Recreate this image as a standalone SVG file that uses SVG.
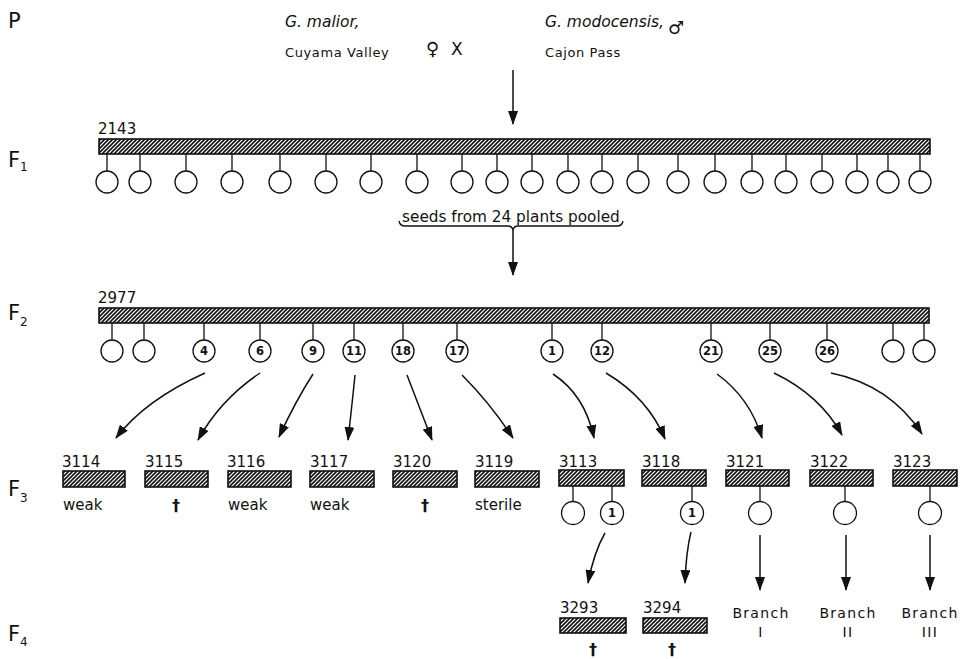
<svg xmlns="http://www.w3.org/2000/svg" width="964" height="659" viewBox="0 0 964 659">
<style>
text{font-family:"DejaVu Sans","Liberation Sans",sans-serif;fill:#111}
.gen{font-size:21px}
.sub{font-size:12px}
.num{font-size:15px}
.lbl{font-size:15px}
.dg{font-size:16px;font-weight:bold;text-anchor:middle}
.cn{font-size:11.5px;font-weight:bold;text-anchor:middle}
.br{font-size:14px;letter-spacing:1.3px;text-anchor:middle}
.sp{font-size:15.5px;font-style:italic}
.loc{font-size:13px;letter-spacing:0.6px}
.bar{fill:url(#hatch);stroke:#111;stroke-width:1.6}
.c{fill:#fff;stroke:#111;stroke-width:1.3}
.st{stroke:#111;stroke-width:1.3;fill:none}
.ar{stroke:#111;stroke-width:1.5;fill:none;marker-end:url(#ah)}
</style>
<defs>
<pattern id="hatch" patternUnits="userSpaceOnUse" width="4" height="4">
<rect width="4" height="4" fill="#fff"/>
<path d="M-1,1 l2,-2 M0,4 l4,-4 M3,5 l2,-2" stroke="#111" stroke-width="1.6"/>
</pattern>
<marker id="ah" viewBox="0 0 14 10" refX="13" refY="5" markerWidth="14" markerHeight="10" markerUnits="userSpaceOnUse" orient="auto">
<path d="M0,0 L14,5 L0,10 z" fill="#111"/>
</marker>
</defs>

<g id="generation-labels">
<text class="gen" x="8" y="28">P</text>
<text class="gen" x="8" y="167">F<tspan class="sub" dy="4">1</tspan></text>
<text class="gen" x="8" y="320">F<tspan class="sub" dy="6">2</tspan></text>
<text class="gen" x="8" y="496">F<tspan class="sub" dy="6">3</tspan></text>
<text class="gen" x="8" y="641">F<tspan class="sub" dy="5">4</tspan></text>
</g>

<g id="parents">
<text class="sp" x="285" y="27">G. malior,</text>
<text class="loc" x="285" y="57">Cuyama Valley</text>
<text x="426" y="55" style="font-size:18px">♀</text>
<text x="451" y="55" style="font-size:17px">X</text>
<text class="sp" x="545" y="27">G. modocensis,</text>
<text x="668" y="34" style="font-size:18px">♂</text>
<text class="loc" x="545" y="57">Cajon Pass</text>
</g>

<g id="F1">
<text class="num" x="98" y="134">2143</text>
<rect class="bar" x="99" y="139" width="831" height="15"/>
<g class="st">
<path d="M107,154V171M140,154V171M186,154V171M232,154V171M280,154V171M326,154V171M371,154V171M417,154V171M462,154V171M497,154V171M532,154V171M568,154V171M602,154V171M638,154V171M678,154V171M715,154V171M752,154V171M786,154V171M822,154V171M857,154V171M888,154V171M920,154V171"/>
</g>
<g>
<circle class="c" cx="107" cy="182" r="11"/><circle class="c" cx="140" cy="182" r="11"/><circle class="c" cx="186" cy="182" r="11"/><circle class="c" cx="232" cy="182" r="11"/><circle class="c" cx="280" cy="182" r="11"/><circle class="c" cx="326" cy="182" r="11"/><circle class="c" cx="371" cy="182" r="11"/><circle class="c" cx="417" cy="182" r="11"/><circle class="c" cx="462" cy="182" r="11"/><circle class="c" cx="497" cy="182" r="11"/><circle class="c" cx="532" cy="182" r="11"/><circle class="c" cx="568" cy="182" r="11"/><circle class="c" cx="602" cy="182" r="11"/><circle class="c" cx="638" cy="182" r="11"/><circle class="c" cx="678" cy="182" r="11"/><circle class="c" cx="715" cy="182" r="11"/><circle class="c" cx="752" cy="182" r="11"/><circle class="c" cx="786" cy="182" r="11"/><circle class="c" cx="822" cy="182" r="11"/><circle class="c" cx="857" cy="182" r="11"/><circle class="c" cx="888" cy="182" r="11"/><circle class="c" cx="920" cy="182" r="11"/>
</g>
</g>

<g id="pool">
<text class="lbl" x="402" y="222" style="font-size:15.3px">seeds from 24 plants pooled</text>
<path class="st" d="M399,221 Q400,226 405,226 L508,226 Q512,226 513,230 Q514,226 518,226 L617,226 Q622,226 623,221"/>
</g>

<g id="F2">
<text class="num" x="98" y="303">2977</text>
<rect class="bar" x="99" y="308" width="830" height="15"/>
<path class="st" d="M112,323V340M144,323V340M204,323V340M260,323V340M313,323V340M354,323V340M403,323V340M457,323V340M552,323V340M602,323V340M711,323V340M770,323V340M827,323V340M893,323V340M924,323V340"/>
<circle class="c" cx="112" cy="351" r="11"/>
<circle class="c" cx="144" cy="351" r="11"/>
<g id="f2-4"><circle class="c" cx="204" cy="351" r="11"/><text class="cn" x="204" y="355">4</text></g>
<g id="f2-6"><circle class="c" cx="260" cy="351" r="11"/><text class="cn" x="260" y="355">6</text></g>
<g id="f2-9"><circle class="c" cx="313" cy="351" r="11"/><text class="cn" x="313" y="355">9</text></g>
<g id="f2-11"><circle class="c" cx="354" cy="351" r="11"/><text class="cn" x="354" y="355">11</text></g>
<g id="f2-18"><circle class="c" cx="403" cy="351" r="11"/><text class="cn" x="403" y="355">18</text></g>
<g id="f2-17"><circle class="c" cx="457" cy="351" r="11"/><text class="cn" x="457" y="355">17</text></g>
<g id="f2-1"><circle class="c" cx="552" cy="351" r="11"/><text class="cn" x="552" y="355">1</text></g>
<g id="f2-12"><circle class="c" cx="602" cy="351" r="11"/><text class="cn" x="602" y="355">12</text></g>
<g id="f2-21"><circle class="c" cx="711" cy="351" r="11"/><text class="cn" x="711" y="355">21</text></g>
<g id="f2-25"><circle class="c" cx="770" cy="351" r="11"/><text class="cn" x="770" y="355">25</text></g>
<g id="f2-26"><circle class="c" cx="827" cy="351" r="11"/><text class="cn" x="827" y="355">26</text></g>
<circle class="c" cx="893" cy="351" r="11"/>
<circle class="c" cx="924" cy="351" r="11"/>
</g>

<g id="F3">
<g id="n3114"><text class="num" x="62" y="467">3114</text><rect class="bar" x="63" y="471" width="62" height="16"/><text class="lbl" x="63" y="510">weak</text></g>
<g id="n3115"><text class="num" x="145" y="467">3115</text><rect class="bar" x="145" y="471" width="63" height="16"/><text class="dg" x="176" y="511">†</text></g>
<g id="n3116"><text class="num" x="227" y="467">3116</text><rect class="bar" x="228" y="471" width="63" height="16"/><text class="lbl" x="228" y="510">weak</text></g>
<g id="n3117"><text class="num" x="310" y="467">3117</text><rect class="bar" x="310" y="471" width="64" height="16"/><text class="lbl" x="310" y="510">weak</text></g>
<g id="n3120"><text class="num" x="393" y="467">3120</text><rect class="bar" x="393" y="471" width="64" height="16"/><text class="dg" x="425" y="511">†</text></g>
<g id="n3119"><text class="num" x="475" y="467">3119</text><rect class="bar" x="475" y="471" width="64" height="16"/><text class="lbl" x="475" y="510">sterile</text></g>
<g id="n3113"><text class="num" x="559" y="467">3113</text><rect class="bar" x="559" y="470" width="65" height="16"/>
<path class="st" d="M573,486V502M612,486V502"/><circle class="c" cx="573" cy="513" r="11.5"/><circle class="c" cx="612" cy="513" r="11.5"/><text class="cn" x="612" y="517">1</text></g>
<g id="n3118"><text class="num" x="642" y="467">3118</text><rect class="bar" x="642" y="470" width="64" height="16"/>
<path class="st" d="M692,486V502"/><circle class="c" cx="692" cy="513" r="11.5"/><text class="cn" x="692" y="517">1</text></g>
<g id="n3121"><text class="num" x="726" y="467">3121</text><rect class="bar" x="726" y="470" width="63" height="16"/>
<path class="st" d="M760,486V502"/><circle class="c" cx="760" cy="513" r="11.5"/></g>
<g id="n3122"><text class="num" x="810" y="467">3122</text><rect class="bar" x="810" y="470" width="63" height="16"/>
<path class="st" d="M845,486V502"/><circle class="c" cx="845" cy="513" r="11.5"/></g>
<g id="n3123"><text class="num" x="893" y="467">3123</text><rect class="bar" x="893" y="470" width="64" height="16"/>
<path class="st" d="M930,486V502"/><circle class="c" cx="930" cy="513" r="11.5"/></g>
</g>

<g id="F4">
<g id="n3293"><text class="num" x="560" y="613">3293</text><rect class="bar" x="560" y="618" width="66" height="15"/><text class="dg" x="593" y="655">†</text></g>
<g id="n3294"><text class="num" x="643" y="613">3294</text><rect class="bar" x="643" y="618" width="64" height="15"/><text class="dg" x="672" y="655">†</text></g>
<g id="branch1"><text class="br" x="761" y="618">Branch</text><text class="br" x="761" y="637">I</text></g>
<g id="branch2"><text class="br" x="848" y="618">Branch</text><text class="br" x="848" y="637">II</text></g>
<g id="branch3"><text class="br" x="930" y="618">Branch</text><text class="br" x="930" y="637">III</text></g>
</g>

<g id="connectors">
<path class="ar" d="M513,70V124"/>
<path class="ar" d="M513,230V275"/>
<path class="ar" d="M205,373 Q145,400 116,438"/>
<path class="ar" d="M260,373 Q220,400 198,440"/>
<path class="ar" d="M313,374 Q295,402 279,437"/>
<path class="ar" d="M355,375 Q352,405 348,440"/>
<path class="ar" d="M407,375 L432,440"/>
<path class="ar" d="M462,375 Q490,403 513,438"/>
<path class="ar" d="M553,374 Q585,395 594,438"/>
<path class="ar" d="M606,373 Q648,398 665,439"/>
<path class="ar" d="M717,374 Q750,398 762,438"/>
<path class="ar" d="M774,373 Q820,395 842,435"/>
<path class="ar" d="M831,373 Q890,385 922,434"/>
<path class="ar" d="M605,533 Q594,552 588,583"/>
<path class="ar" d="M691,532 Q686,552 685,583"/>
<path class="ar" d="M760,535V590"/>
<path class="ar" d="M846,535V590"/>
<path class="ar" d="M930,535V590"/>
</g>
</svg>
